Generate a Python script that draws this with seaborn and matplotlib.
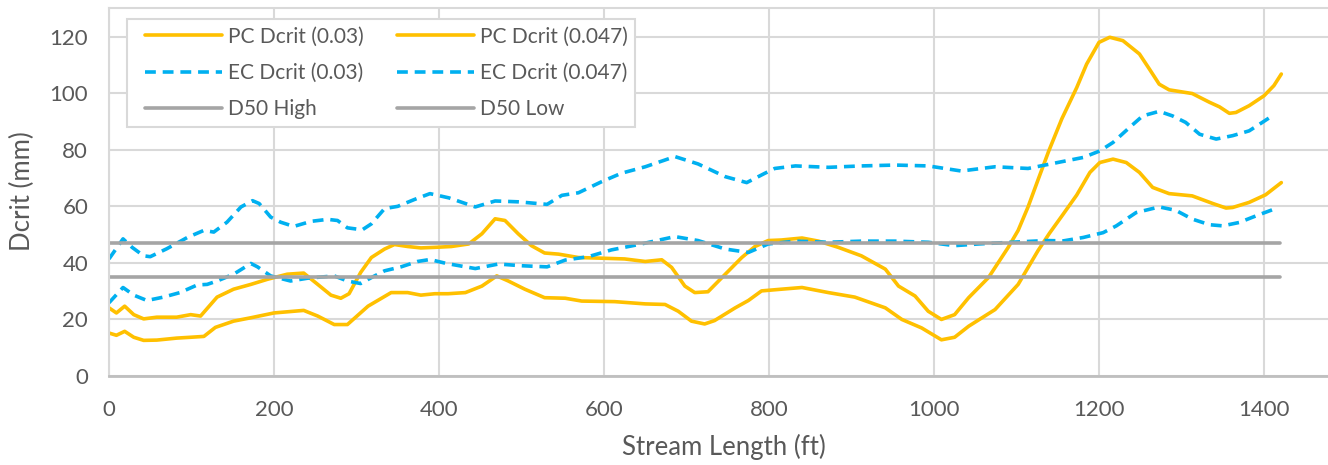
import matplotlib
matplotlib.use("Agg")
import matplotlib.pyplot as plt
import seaborn as sns
import pandas as pd
from matplotlib.legend_handler import HandlerLine2D

# ---------------- data ----------------
pc03_x = [0, 9, 19, 30, 42, 58, 82, 99, 111, 131, 151, 172, 192, 216, 236, 253, 269, 281, 291, 305,
          318, 334, 346, 362, 378, 395, 415, 436, 452, 468, 480, 496, 512, 528, 545, 569, 593, 625,
          650, 670, 682, 698, 710, 726, 747, 767, 783, 799, 815, 840, 860, 884, 912, 941, 957, 977,
          993, 1009, 1025, 1042, 1066, 1090, 1102, 1114, 1126, 1139, 1155, 1173, 1185, 1200, 1213,
          1229, 1249, 1261, 1273, 1285, 1313, 1334, 1346, 1358, 1366, 1382, 1400, 1412, 1421]
pc03_y = [24.1, 22.3, 24.7, 21.7, 20.2, 20.8, 20.8, 21.7, 21.2, 27.9, 30.7, 32.4, 34.2, 36.0, 36.4,
          32.4, 28.6, 27.5, 29.1, 36.6, 41.9, 44.9, 46.5, 45.8, 45.3, 45.5, 45.8, 46.7, 50.3, 55.6,
          55.0, 50.3, 46.1, 43.5, 43.1, 41.9, 41.7, 41.4, 40.5, 41.1, 38.4, 31.8, 29.5, 29.8, 36.0,
          41.9, 45.8, 47.9, 48.1, 48.8, 47.7, 45.5, 42.5, 37.8, 31.8, 28.3, 22.9, 20.0, 21.7, 27.7,
          34.8, 45.5, 51.5, 59.8, 69.3, 79.5, 91.0, 102.0, 110.3, 118.0, 119.8, 118.6, 113.9, 108.6,
          103.2, 101.2, 99.9, 96.8, 95.2, 92.9, 93.2, 95.6, 99.1, 102.7, 106.8]

pc047_x = [0, 9, 19, 30, 42, 58, 82, 99, 115, 129, 151, 172, 200, 216, 236, 253, 273, 289, 314, 342,
           362, 378, 395, 411, 432, 452, 470, 484, 504, 528, 553, 573, 613, 650, 674, 690, 706, 722,
           734, 759, 775, 791, 815, 840, 872, 904, 941, 961, 985, 1009, 1025, 1042, 1074, 1102, 1126,
           1140, 1156, 1173, 1189, 1201, 1217, 1233, 1249, 1265, 1285, 1313, 1338, 1354, 1362, 1382,
           1402, 1421]
pc047_y = [15.2, 14.4, 15.8, 13.7, 12.6, 12.7, 13.4, 13.7, 14.0, 17.2, 19.4, 20.6, 22.3, 22.7, 23.2,
           21.2, 18.2, 18.2, 24.7, 29.5, 29.5, 28.6, 29.1, 29.1, 29.5, 31.8, 35.4, 33.6, 30.7, 27.7,
           27.5, 26.5, 26.3, 25.5, 25.3, 22.9, 19.4, 18.4, 19.6, 24.1, 26.7, 30.1, 30.7, 31.3, 29.5,
           27.9, 24.1, 20.0, 17.0, 12.8, 13.7, 17.6, 23.5, 32.4, 44.3, 50.5, 57.0, 64.0, 72.0, 75.5,
           76.7, 75.5, 72.0, 66.7, 64.5, 63.7, 61.0, 59.4, 59.6, 61.4, 64.1, 68.4]

ec03_x = [0, 17, 28, 42, 50, 70, 95, 115, 127, 143, 160, 174, 182, 196, 208, 224, 245, 265, 277, 289,
          307, 318, 334, 350, 370, 389, 412, 444, 468, 496, 531, 549, 569, 597, 621, 650, 686, 714,
          747, 773, 795, 807, 832, 872, 912, 953, 993, 1033, 1074, 1114, 1155, 1181, 1201, 1217,
          1237, 1253, 1273, 1289, 1305, 1322, 1342, 1362, 1382, 1398, 1412]
ec03_y = [41.4, 48.5, 45.5, 42.5, 42.2, 45.0, 49.0, 51.5, 50.9, 54.4, 59.8, 62.0, 61.0, 56.2, 54.4,
          52.9, 54.7, 55.4, 55.0, 52.4, 51.7, 53.8, 59.2, 60.0, 62.4, 64.5, 63.0, 59.8, 61.9, 61.6,
          60.7, 63.9, 64.8, 68.7, 71.7, 74.0, 77.6, 75.0, 70.5, 68.4, 71.7, 73.4, 74.3, 73.8, 74.3,
          74.6, 74.3, 72.5, 74.0, 73.4, 75.8, 77.3, 79.6, 82.6, 87.9, 92.0, 93.6, 92.0, 89.7, 85.5,
          83.8, 85.0, 86.7, 89.7, 92.4]

ec047_x = [0, 17, 30, 46, 66, 86, 107, 119, 131, 151, 172, 180, 196, 220, 241, 273, 289, 305, 318,
           334, 354, 374, 389, 409, 444, 472, 500, 531, 553, 581, 609, 642, 686, 714, 747, 775, 799,
           832, 872, 912, 953, 993, 1025, 1054, 1094, 1135, 1157, 1181, 1205, 1221, 1245, 1273, 1293,
           1313, 1334, 1350, 1370, 1390, 1412]
ec047_y = [25.9, 31.3, 28.6, 26.7, 27.9, 29.5, 32.2, 32.4, 33.6, 36.0, 39.8, 38.6, 35.4, 33.6, 34.6,
           35.4, 33.6, 32.7, 34.8, 37.2, 38.6, 40.5, 41.2, 39.8, 38.0, 39.6, 39.0, 38.6, 41.0, 42.2,
           44.6, 46.5, 49.3, 47.9, 44.9, 43.7, 46.7, 47.7, 47.3, 47.7, 47.7, 47.3, 46.1, 46.7, 47.3,
           47.9, 47.8, 49.0, 50.7, 53.1, 57.8, 59.8, 58.6, 55.5, 53.5, 53.1, 54.3, 56.6, 59.0]

d50_x = [0, 1420]
d50_high = [47, 47]
d50_low = [35, 35]

x_ticks = [0, 200, 400, 600, 800, 1000, 1200, 1400]
y_ticks = [0, 20, 40, 60, 80, 100, 120]

# ---------------- style ----------------
sns.set_theme(style="white")
plt.rcParams["font.family"] = ["Lato", "DejaVu Sans"]
TXT = "#595959"
GOLD = "#FFC000"
BLUE = "#00B0F0"
GRAY = "#A5A5A5"
GRID = "#D9D9D9"

W, H = 1328, 465
fig = plt.figure(figsize=(W / 100, H / 100), dpi=100)
x0_px, y0_px = 109, 376
px_per_ft = 165 / 200
px_per_unit = 56.55 / 20
xmax, ymax = 1500, 130
ax = fig.add_axes([x0_px / W, 1 - y0_px / H, xmax * px_per_ft / W, ymax * px_per_unit / H])

lw = 2.6
dash = (0, (3.0, 1.9))
series = [
    ("PC Dcrit (0.03)", pc03_x, pc03_y, GOLD, "-"),
    ("PC Dcrit (0.047)", pc047_x, pc047_y, GOLD, "-"),
    ("EC Dcrit (0.03)", ec03_x, ec03_y, BLUE, dash),
    ("EC Dcrit (0.047)", ec047_x, ec047_y, BLUE, dash),
    ("D50 High", d50_x, d50_high, GRAY, "-"),
    ("D50 Low", d50_x, d50_low, GRAY, "-"),
]
handles = {}
for name, xs, ys, col, ls in series:
    df = pd.DataFrame({"x": xs, "y": ys})
    sns.lineplot(data=df, x="x", y="y", ax=ax, color=col, linewidth=lw, linestyle=ls,
                 estimator=None, sort=False, legend=False)
    line = ax.lines[-1]
    line.set_label(name)
    line.set_solid_joinstyle("round")
    handles[name] = line

ax.set_xlim(0, xmax)
ax.set_ylim(0, ymax)
ax.set_xticks(x_ticks)
ax.set_yticks(y_ticks)
ax.grid(True, color=GRID, linewidth=1.5)
ax.set_axisbelow(True)
ax.spines["right"].set_visible(False)
ax.spines["top"].set_color(GRID)
ax.spines["top"].set_linewidth(1.5)
ax.spines["left"].set_color(GRID)
ax.spines["left"].set_linewidth(1.5)
ax.spines["bottom"].set_color("#BFBFBF")
ax.spines["bottom"].set_linewidth(2.0)

ax.tick_params(axis="x", length=0, pad=17, labelsize=16, labelcolor=TXT)
ax.tick_params(axis="y", length=0, pad=15, labelsize=16, labelcolor=TXT)

ax.set_xlabel("Stream Length (ft)", fontsize=18.5, color=TXT, va="center")
ax.set_ylabel("Dcrit (mm)", fontsize=18.5, color=TXT, va="center")
ax_h_px = ymax * px_per_unit
ax_w_px = xmax * px_per_ft
ax.xaxis.set_label_coords((724 - x0_px) / ax_w_px, (y0_px - 447) / ax_h_px)
ax.yaxis.set_label_coords((22 - x0_px) / ax_w_px, (y0_px - 191) / ax_h_px)

order = ["PC Dcrit (0.03)", "EC Dcrit (0.03)", "D50 High",
         "PC Dcrit (0.047)", "EC Dcrit (0.047)", "D50 Low"]
hmap = {handles[n]: HandlerLine2D(xpad=0.5) for n in order}
leg = ax.legend([handles[n] for n in order], order, ncol=2, loc="upper left",
                bbox_to_anchor=((127 - x0_px) / ax_w_px, (y0_px - 19) / ax_h_px),
                borderaxespad=0, fontsize=15, frameon=True, fancybox=False,
                handlelength=4.2, handletextpad=0.3, columnspacing=1.05,
                labelspacing=0.78, borderpad=0.37, handler_map=hmap)
leg.get_frame().set_edgecolor(GRID)
leg.get_frame().set_linewidth(1.5)
leg.get_frame().set_facecolor("white")
leg.get_frame().set_alpha(1)
for t in leg.get_texts():
    t.set_color(TXT)

fig.savefig("out.png", dpi=100)
